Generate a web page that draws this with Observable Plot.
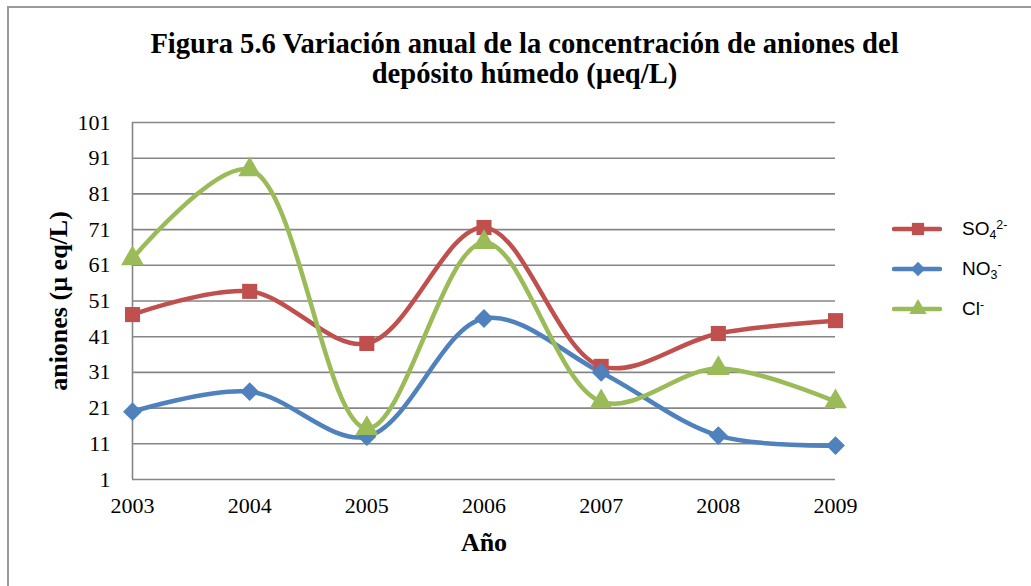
<!DOCTYPE html>
<html><head><meta charset="utf-8">
<script src="https://cdn.jsdelivr.net/npm/d3@7"></script>
<script src="https://cdn.jsdelivr.net/npm/@observablehq/plot@0.6"></script>
<style>
body{margin:0;background:#fff;}
#wrap{position:relative;width:1031px;height:586px;overflow:hidden;background:#fff;}
#frame{position:absolute;left:7px;top:6px;width:1100px;height:700px;border:2px solid #9a9a9a;box-sizing:border-box;}
#title{position:absolute;left:18px;top:29px;width:1013px;text-align:center;font-family:"Liberation Serif",serif;font-weight:bold;font-size:28.6px;line-height:30px;color:#000;}
#chart{position:absolute;left:0;top:105px;}
#legend{position:absolute;left:892px;top:0;font-family:"Liberation Sans",sans-serif;font-size:19px;color:#000;}
.row{position:absolute;left:0;display:flex;align-items:center;height:24px;white-space:nowrap;}
.row svg{margin-right:20px;}
.sub{font-size:0.65em;position:relative;top:0.35em;}
.sup{font-size:0.65em;position:relative;top:-0.45em;}
</style></head>
<body>
<div id="wrap">
  <div id="frame"></div>
  <div id="title">Figura 5.6 Variación anual de la concentración de aniones del<br>depósito húmedo (µeq/L)</div>
  <div id="chart"></div>
  <div id="legend"></div>
</div>
<script>
const years = [2003, 2004, 2005, 2006, 2007, 2008, 2009];
const so4 = [47.2, 53.7, 39.1, 71.6, 32.7, 41.9, 45.5];
const no3 = [20.0, 25.6, 13.0, 46.1, 31.0, 13.3, 10.5];
const cl  = [62.9, 87.8, 15.3, 67.4, 22.8, 32.1, 22.8];
const seriesNames = ["SO4", "NO3", "Cl"];
const seriesColors = ["#C0504D", "#4F81BD", "#9BBB59"];
const seriesSymbols = ["square", "diamond2", "triangle"];
const yTicks = [1, 11, 21, 31, 41, 51, 61, 71, 81, 91, 101];
const xLabel = "Año";
const yLabel = "aniones (µ eq/L)";

const valuesBySeries = {SO4: so4, NO3: no3, Cl: cl};
const data = seriesNames.flatMap(s => years.map((yr, i) => ({s, year: yr, v: valuesBySeries[s][i]})));

const W = 1031, H = 481;
const chart = Plot.plot({
  width: W, height: H,
  marginLeft: 132, marginRight: 196, marginTop: 17, marginBottom: 107,
  style: {fontFamily: "'Liberation Serif', serif", fontSize: "22px", color: "#000", background: "transparent", overflow: "visible"},
  x: {domain: [2003, 2009]},
  y: {domain: [1, 101]},
  color: {domain: seriesNames, range: seriesColors},
  symbol: {domain: seriesNames, range: seriesSymbols},
  marks: [
    Plot.ruleY(yTicks, {stroke: "#868686", strokeWidth: 1.6}),
    Plot.ruleX([2003], {stroke: "#868686", strokeWidth: 1.6}),
    Plot.axisX({ticks: years, tickFormat: d => String(d), tickSize: 0, tickPadding: 18, label: null, fontSize: 22}),
    Plot.axisY({ticks: yTicks, tickSize: 0, tickPadding: 22, label: null, fontSize: 22}),
    Plot.line(data, {x: "year", y: "v", z: "s", stroke: "s", strokeWidth: 4.5, curve: "catmull-rom"}),
    Plot.dot(data, {x: "year", y: "v", fill: "s", symbol: "s", r: 8.5, stroke: "none"}),
    Plot.text([yLabel], {frameAnchor: "left", textAnchor: "middle", rotate: -90, dx: -74, fontWeight: "bold", fontSize: 26}),
    Plot.text([xLabel], {frameAnchor: "bottom", dy: 71, fontWeight: "bold", fontSize: 26})
  ]
});
document.getElementById("chart").appendChild(chart);

// Legend
const legendLabels = [
  'SO<span class="sub">4</span><span class="sup">2-</span>',
  'NO<span class="sub">3</span><span class="sup">-</span>',
  'Cl<span class="sup">-</span>'
];
const legendCenters = [229, 269, 309];
const legend = document.getElementById("legend");
seriesNames.forEach((s, i) => {
  const row = document.createElement("div");
  row.className = "row";
  row.style.top = (legendCenters[i] - 12) + "px";
  const sym = d3.symbol(d3[{square: "symbolSquare", diamond2: "symbolDiamond2", triangle: "symbolTriangle"}[seriesSymbols[i]]], i === 0 ? 150 : 130)();
  row.innerHTML = `<svg width="50" height="24"><line x1="2" x2="48" y1="12" y2="12" stroke="${seriesColors[i]}" stroke-width="4.5" stroke-linecap="round"/><path d="${sym}" transform="translate(26,12)" fill="${seriesColors[i]}"/></svg><span>${legendLabels[i]}</span>`;
  legend.appendChild(row);
});
</script>
</body></html>
